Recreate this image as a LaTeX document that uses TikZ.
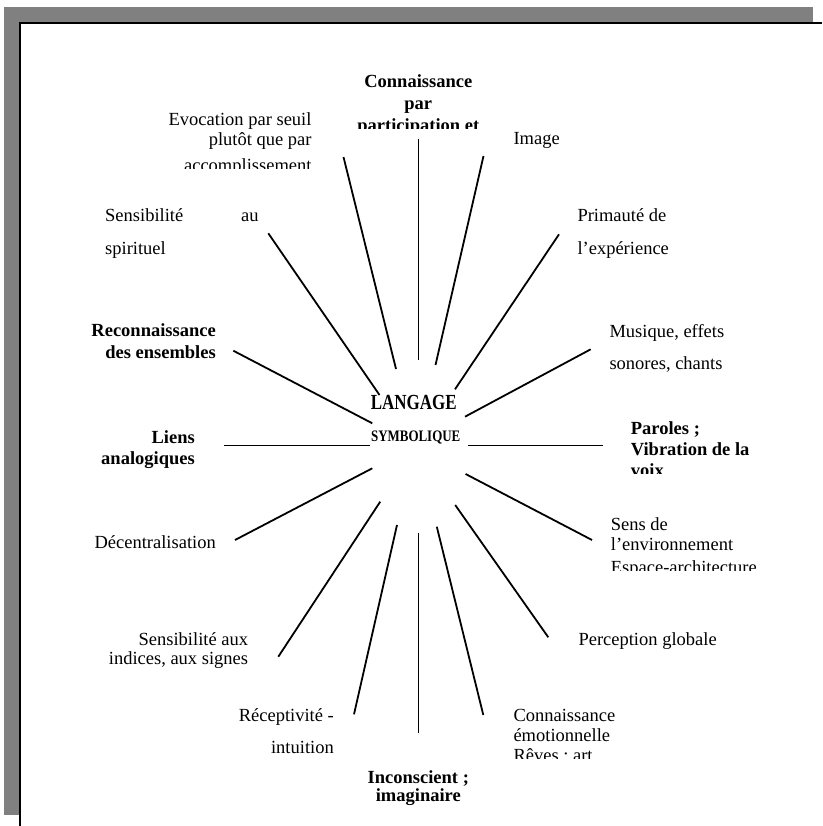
\documentclass[tikz,border=0pt]{standalone}
\usepackage{fontspec}
\setmainfont{Liberation Serif}
\usepackage{graphicx}
\usepackage{tikz}

\definecolor{shadow}{RGB}{128,128,128}
\newcommand{\colL}[1]{\begin{tabular}[t]{@{}l@{}}#1\end{tabular}}
\newcommand{\colR}[1]{\begin{tabular}[t]{@{}r@{}}#1\end{tabular}}
\newcommand{\colC}[1]{\begin{tabular}[t]{@{}c@{}}#1\end{tabular}}

\begin{document}
\begin{tikzpicture}[x=1pt,y=-1pt,
  spoke/.style={black,line width=1.8pt},
  txt/.style={inner sep=0pt,font=\fontsize{18.5}{#1}\selectfont},
  txt/.default=21,
  btxt/.style={inner sep=0pt,font=\fontsize{18.5}{#1}\selectfont\bfseries},
  btxt/.default=21]
\useasboundingbox (0,0) rectangle (822,826);
% frame with shadow
\fill [shadow] (3.5,7.5) rectangle (813,815);
\fill [white] (20.2,22.8) rectangle (822,826);
\draw [black,line width=1.7pt] (822,22.8) -- (20.2,22.8) -- (20.2,826);
% centre
\node [btxt,font=\fontsize{21.5}{22}\selectfont\bfseries,anchor=base] (lang) at (413.7,409.3) {\scalebox{0.79}[1]{LANGAGE}};
\node [btxt,font=\fontsize{16}{17}\selectfont\bfseries,anchor=base] (symb) at (415.7,441.7) {\scalebox{0.81}[1]{SYMBOLIQUE}};
% spokes
\draw [spoke] (418.5,360) coordinate (n-a) -- (418.5,139) coordinate (n-b);
\draw [spoke] (396,369) coordinate (nnw-a) -- (343.5,157) coordinate (nnw-b);
\draw [spoke] (435.5,365) coordinate (nne-a) -- (483.5,156) coordinate (nne-b);
\draw [spoke] (455,389.3) coordinate (ne-a) -- (559,234.3) coordinate (ne-b);
\draw [spoke] (465,416.7) coordinate (ene-a) -- (590.7,349.3) coordinate (ene-b);
\draw [spoke] (468.3,445.5) coordinate (e-a) -- (603.3,445.5) coordinate (e-b);
\draw [spoke] (465.6,474) coordinate (ese-a) -- (592,540) coordinate (ese-b);
\draw [spoke] (455.2,505) coordinate (se-a) -- (548.3,637.3) coordinate (se-b);
\draw [spoke] (436.8,526.7) coordinate (sse-a) -- (483.3,715) coordinate (sse-b);
\draw [spoke] (418.5,533.3) coordinate (s-a) -- (418.5,733.3) coordinate (s-b);
\draw [spoke] (397,525) coordinate (ssw-a) -- (354,714.3) coordinate (ssw-b);
\draw [spoke] (380.2,501.7) coordinate (sw-a) -- (278.3,656.7) coordinate (sw-b);
\draw [spoke] (372.3,468.3) coordinate (wsw-a) -- (235,540) coordinate (wsw-b);
\draw [spoke] (370,445.5) coordinate (w-a) -- (224,445.5) coordinate (w-b);
\draw [spoke] (372.3,423.3) coordinate (wnw-a) -- (233.3,350.7) coordinate (wnw-b);
\draw [spoke] (379.5,395) coordinate (nw-a) -- (268.3,233.3) coordinate (nw-b);
% labels
\begin{scope}
\clip (320,60) rectangle (520,128.3);
\node [btxt=22,anchor=base] (conn) at (418.3,87.3) {\colC{Connaissance\\par\\participation et}};
\end{scope}
\begin{scope}
\clip (150,100) rectangle (320,168.3);
\node [txt=19.3,anchor=base east] (evoc) at (311.7,126) {\colR{Evocation par seuil\\plutôt que par\\[7.4pt]accomplissement}};
\end{scope}
\node [txt,anchor=base west] (img) at (513.3,145) {Image};
\node [txt=32.3,anchor=base west] (spir) at (105,221.7) {\colL{\makebox[153.3pt][l]{Sensibilité\hfill au}\\spirituel}};
\node [txt=32.3,anchor=base west] (prim) at (577.3,221.7) {\colL{Primauté de\\l’expérience}};
\node [txt=32,anchor=base west] (musi) at (609.3,337.3) {\colL{Musique, effets\\sonores, chants}};
\node [btxt=21.6,anchor=base east] (reco) at (216,336.7) {\colR{Reconnaissance\\des ensembles}};
\node [btxt=20.7,anchor=base east] (liens) at (195,443.3) {\colR{Liens\\analogiques}};
\begin{scope}
\clip (620,400) rectangle (800,473);
\node [btxt=21,anchor=base west] (parol) at (630.7,434) {\colL{Paroles ;\\Vibration de la\\voix}};
\end{scope}
\node [txt,anchor=base east] (decen) at (216,548.3) {Décentralisation};
\begin{scope}
\clip (600,500) rectangle (800,570.5);
\node [txt=20.7,anchor=base west] (sens) at (610.7,530) {\colL{Sens de\\l’environnement\\[1.6pt]Espace-architecture}};
\end{scope}
\node [txt=19.5,anchor=base east] (indic) at (248.3,645) {\colR{Sensibilité aux\\indices, aux signes}};
\node [txt,anchor=base west] (perc) at (578.3,645) {Perception globale};
\node [txt=31.6,anchor=base east] (recep) at (334,721.7) {\colR{Réceptivité -\\intuition}};
\begin{scope}
\clip (500,690) rectangle (700,758);
\node [txt=20,anchor=base west] (emo) at (513.3,721.7) {\colL{Connaissance\\émotionnelle\\Rêves ; art}};
\end{scope}
\node [btxt=18.4,anchor=base] (incon) at (418.3,783.3) {\colC{Inconscient ;\\imaginaire}};
\end{tikzpicture}
\end{document}
